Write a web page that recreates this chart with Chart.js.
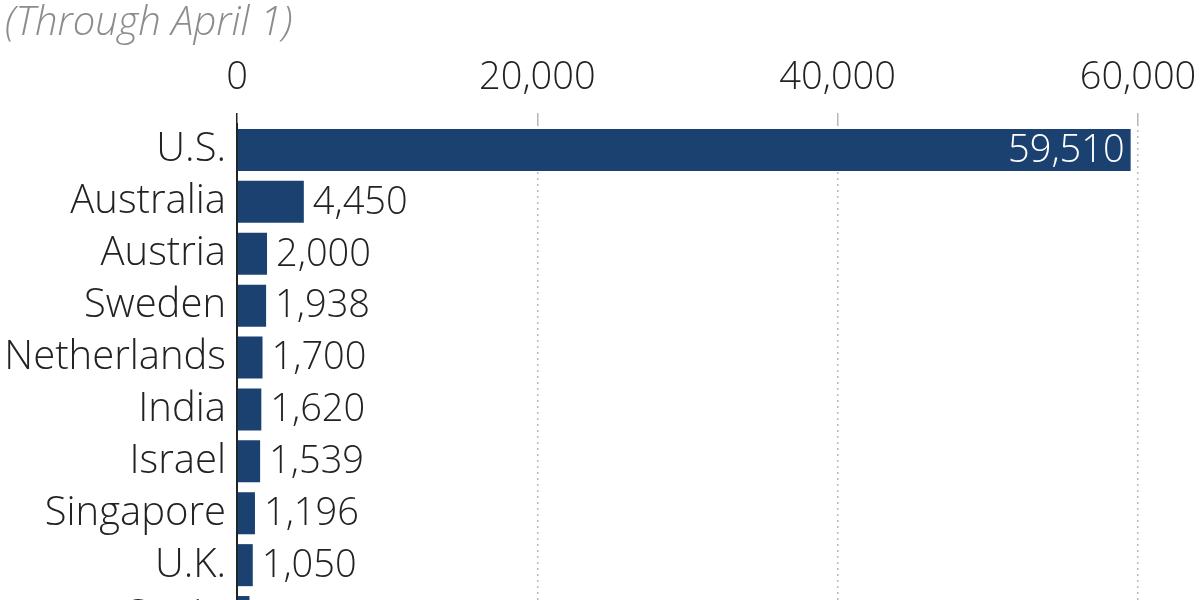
<!DOCTYPE html>
<html>
<head>
<meta charset="utf-8">
<script src="https://cdn.jsdelivr.net/npm/chart.js@4"></script>
<style>
  html, body { margin: 0; padding: 0; background: #fff; overflow: hidden; }
  #wrap { position: relative; width: 1200px; height: 643px; }
  #sub {
    position: absolute; left: 5px; top: -2px;
    font-family: "Open Sans", sans-serif; font-style: italic; font-weight: 300; font-size: 40px;
    line-height: 44px; color: #8c8c8c; white-space: nowrap;
  }
</style>
</head>
<body>
<div id="wrap">
  <div id="sub">(Through April 1)</div>
  <canvas id="chart" width="1200" height="643"></canvas>
</div>
<script>
const countries = ["U.S.", "Australia", "Austria", "Sweden", "Netherlands", "India", "Israel", "Singapore", "U.K.", "Spain"];
const values = [59510, 4450, 2000, 1938, 1700, 1620, 1539, 1196, 1050, 830];
const xTicks = [0, 20000, 40000, 60000];

const navy = "#1b4170";
const ink = "#222222";
const numFont = { family: "Open Sans", size: 38, weight: "300" };
const catFont = { family: "Open Sans", size: 40, weight: "300" };

const fmt = (v) => v.toLocaleString("en-US");

// value labels next to (or inside) each bar
const valueLabels = {
  id: "valueLabels",
  afterDatasetsDraw(chart) {
    const ctx = chart.ctx;
    const meta = chart.getDatasetMeta(0);
    ctx.save();
    ctx.font = "300 " + numFont.size + "px '" + numFont.family + "'";
    ctx.textBaseline = "middle";
    meta.data.forEach((bar, i) => {
      const v = values[i];
      if (v > 50000) {
        ctx.fillStyle = "#ffffff";
        ctx.textAlign = "right";
        ctx.fillText(fmt(v), bar.x - 6, bar.y + 1);
      } else {
        ctx.fillStyle = ink;
        ctx.textAlign = "left";
        ctx.fillText(fmt(v), bar.x + 9, bar.y + 1);
      }
    });
    ctx.restore();
  },
};

new Chart(document.getElementById("chart"), {
  type: "bar",
  data: {
    labels: countries,
    datasets: [
      {
        data: values,
        backgroundColor: navy,
        barPercentage: 0.81,
        categoryPercentage: 1,
      },
    ],
  },
  options: {
    indexAxis: "y",
    responsive: false,
    animation: false,
    layout: { padding: { left: 0, right: 62, top: 0, bottom: 0 } },
    plugins: {
      legend: { display: false },
      tooltip: { enabled: false },
    },
    scales: {
      x: {
        position: "top",
        min: 0,
        max: 60000,
        afterBuildTicks: (scale) => {
          scale.ticks = xTicks.map((v) => ({ value: v }));
        },
        afterFit: (scale) => {
          scale.height = 124;
          scale.paddingLeft = 0;
          scale.paddingRight = 0;
        },
        ticks: {
          color: ink,
          font: numFont,
          padding: 12,
          maxRotation: 0,
          autoSkip: false,
          callback: (v) => fmt(v),
        },
        grid: {
          color: (c) => (c.index === 0 ? "rgba(0,0,0,0)" : "#b8b8b8"),
          tickColor: (c) => (c.index === 0 ? ink : "#b8b8b8"),
          tickLength: 11,
          lineWidth: 1.5,
        },
        border: { display: false, dash: [2, 4] },
      },
      y: {
        afterFit: (scale) => {
          scale.width = 237;
          scale.paddingTop = 0;
          scale.paddingBottom = 0;
        },
        ticks: {
          color: ink,
          font: catFont,
          padding: 11,
          autoSkip: false,
        },
        grid: { display: false, drawTicks: false },
        border: { display: true, color: ink, width: 2 },
      },
    },
  },
  plugins: [valueLabels],
});
</script>
</body>
</html>
